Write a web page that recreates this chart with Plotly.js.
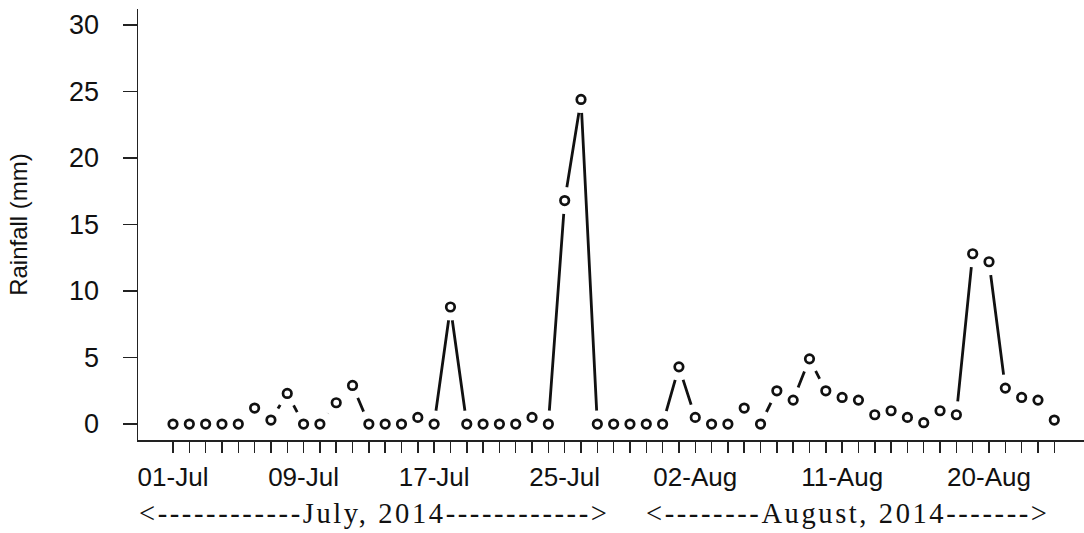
<!DOCTYPE html>
<html>
<head>
<meta charset="utf-8">
<script src="https://cdn.plot.ly/plotly-3.0.1.min.js"></script>
<style>
  html, body { margin: 0; padding: 0; background: #fff; }
  #chart { width: 1084px; height: 533px; }
</style>
</head>
<body>
<div id="chart"></div>
<script>
// Daily dates, 1 July to 24 August 2014
const dates = [
  '2014-07-01','2014-07-02','2014-07-03','2014-07-04','2014-07-05','2014-07-06','2014-07-07','2014-07-08',
  '2014-07-09','2014-07-10','2014-07-11','2014-07-12','2014-07-13','2014-07-14','2014-07-15','2014-07-16',
  '2014-07-17','2014-07-18','2014-07-19','2014-07-20','2014-07-21','2014-07-22','2014-07-23','2014-07-24',
  '2014-07-25','2014-07-26','2014-07-27','2014-07-28','2014-07-29','2014-07-30','2014-07-31',
  '2014-08-01','2014-08-02','2014-08-03','2014-08-04','2014-08-05','2014-08-06','2014-08-07','2014-08-08',
  '2014-08-09','2014-08-10','2014-08-11','2014-08-12','2014-08-13','2014-08-14','2014-08-15','2014-08-16',
  '2014-08-17','2014-08-18','2014-08-19','2014-08-20','2014-08-21','2014-08-22','2014-08-23','2014-08-24'
];

// Daily rainfall (mm)
const rainfall = [
  0, 0, 0, 0, 0, 1.2, 0.3, 2.3,
  0, 0, 1.6, 2.9, 0, 0, 0, 0.5,
  0, 8.8, 0, 0, 0, 0, 0.5, 0,
  16.8, 24.4, 0, 0, 0, 0, 0,
  4.3, 0.5, 0, 0, 1.2, 0, 2.5, 1.8,
  4.9, 2.5, 2.0, 1.8, 0.7, 1.0, 0.5, 0.1,
  1.0, 0.7, 12.8, 12.2, 2.7, 2.0, 1.8, 0.3
];

// Labelled x ticks
const xTickVals = ['2014-07-01','2014-07-09','2014-07-17','2014-07-25','2014-08-02','2014-08-11','2014-08-20'];
const xTickText = ['01-Jul','09-Jul','17-Jul','25-Jul','02-Aug','11-Aug','20-Aug'];

// Y ticks
const yTickVals = [0, 5, 10, 15, 20, 25, 30];

// Month labels under the axis
const monthLabels = ['<------------July, 2014------------>', '<--------August, 2014------->'];
const monthCenters = ['2014-07-13 07:00', '2014-08-11 08:00'];

const ink = '#111111';

const traces = [
  { // connecting lines
    x: dates, y: rainfall, type: 'scatter', mode: 'lines',
    line: { color: ink, width: 2.8 }, hoverinfo: 'skip', showlegend: false
  },
  { // white halo producing the gaps around points (R type = "b")
    x: dates, y: rainfall, type: 'scatter', mode: 'markers',
    marker: { symbol: 'circle', size: 27, color: '#ffffff', line: { width: 0 } },
    hoverinfo: 'skip', showlegend: false
  },
  { // open circle points
    x: dates, y: rainfall, type: 'scatter', mode: 'markers',
    marker: { symbol: 'circle', size: 8.5, color: '#ffffff', line: { color: ink, width: 2.7 } },
    showlegend: false
  }
];

const annotations = monthLabels.map((t, i) => ({
  text: '<span style="letter-spacing:2.6px">' + t + '</span>',
  x: monthCenters[i], xref: 'x', y: -0.17, yref: 'paper',
  xanchor: 'center', yanchor: 'middle', showarrow: false,
  font: { family: 'Liberation Serif, Times New Roman, serif', size: 28.5, color: ink }
}));

const layout = {
  width: 1084, height: 533,
  margin: { l: 138, r: 0, t: 9, b: 93, pad: 0 },
  paper_bgcolor: '#ffffff', plot_bgcolor: '#ffffff',
  showlegend: false,
  xaxis: {
    type: 'date',
    range: ['2014-06-28 20:31', '2014-08-25 19:41'],
    tickmode: 'array', tickvals: xTickVals, ticktext: xTickText,
    ticks: 'outside', ticklen: 11, tickwidth: 1.5, tickcolor: '#222',
    minor: { ticks: 'outside', ticklen: 11, tickwidth: 1.5, tickcolor: '#222',
             tickmode: 'array', tickvals: dates, showgrid: false },
    showline: true, linecolor: '#222', linewidth: 1.5,
    showgrid: false, zeroline: false,
    tickfont: { family: 'Liberation Sans, Arial, sans-serif', size: 26, color: ink },
    ticklabelstandoff: 2
  },
  yaxis: {
    range: [-1.2, 31.2],
    tickmode: 'array', tickvals: yTickVals,
    ticks: 'outside', ticklen: 14, tickwidth: 1.5, tickcolor: '#222',
    showline: true, linecolor: '#222', linewidth: 1.5,
    showgrid: false, zeroline: false,
    tickfont: { family: 'Liberation Sans, Arial, sans-serif', size: 27, color: ink },
    ticklabelstandoff: 18,
    title: { text: 'Rainfall (mm)', standoff: 34,
             font: { family: 'Liberation Sans, Arial, sans-serif', size: 24, color: ink } }
  },
  annotations: annotations
};

Plotly.newPlot('chart', traces, layout, { staticPlot: true, displayModeBar: false });
</script>
</body>
</html>
